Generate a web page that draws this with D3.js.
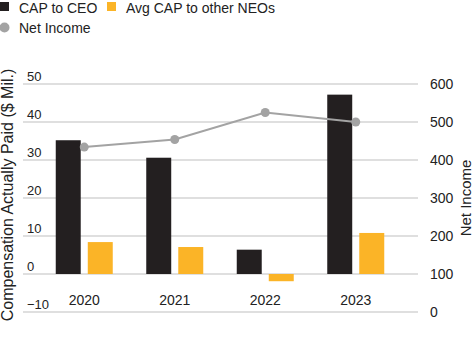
<!DOCTYPE html>
<html>
<head>
<meta charset="utf-8">
<script src="https://cdn.jsdelivr.net/npm/d3@7"></script>
<style>
  html, body { margin: 0; padding: 0; background: #fff; }
  svg { display: block; font-family: "Liberation Sans", Arial, sans-serif; }
  .tick text { fill: #222; }
</style>
</head>
<body>
<div id="chart"></div>
<script>
(() => {
  "use strict";

  const years = ["2020", "2021", "2022", "2023"];
  const capCeo = [35.2, 30.6, 6.4, 47.2];
  const capNeo = [8.4, 7.1, -1.9, 10.8];
  const netIncome = [434, 454, 525, 500];
  const leftTicks = [-10, 0, 10, 20, 30, 40, 50];
  const rightTicks = [0, 100, 200, 300, 400, 500, 600];

  const W = 475, H = 337;
  const BLACK = "#231f20", ORANGE = "#fbb427", GRAY = "#a3a3a3";

  const svg = d3.select("#chart").append("svg").attr("width", W).attr("height", H);

  const x0 = d3.scaleBand().domain(years).range([39, 401]);
  const keys = ["ceo", "neo"];
  const x1 = d3.scaleBand().domain(keys).range([16.75, 73.75]).paddingInner(0.22);
  const y = d3.scaleLinear().domain([-10, 50]).range([312, 84]);
  const yR = d3.scaleLinear().domain([0, 600]).range([312, 84]);
  const color = d3.scaleOrdinal().domain(keys).range([BLACK, ORANGE]);

  // gridlines
  svg.append("g").selectAll("line").data(leftTicks).join("line")
    .attr("x1", 23).attr("x2", 418)
    .attr("y1", d => y(d)).attr("y2", d => y(d))
    .attr("stroke", "#d4d4d4").attr("stroke-width", 1.6);

  // left labels sitting just above each line
  const gl = svg.append("g").attr("transform", "translate(23,0)")
    .call(d3.axisRight(y).tickValues(leftTicks).tickSize(0).tickFormat(d3.format("d")));
  gl.select(".domain").remove();
  gl.selectAll("text").attr("x", 4).attr("dy", "-0.3em")
    .attr("text-anchor", "start").style("font-size", "13px");

  // right axis
  const gr = svg.append("g").attr("transform", "translate(418,0)")
    .call(d3.axisRight(yR).tickValues(rightTicks).tickSize(0).tickPadding(12));
  gr.select(".domain").remove();
  gr.selectAll("text").style("font-size", "14px");

  // x axis labels
  const gx = svg.append("g").attr("transform", "translate(0,295)")
    .call(d3.axisBottom(x0).tickSize(0).tickPadding(0));
  gx.select(".domain").remove();
  gx.selectAll("text").style("font-size", "14px");

  // bars
  const rows = years.map((yr, i) => ({ year: yr, ceo: capCeo[i], neo: capNeo[i] }));
  svg.append("g").selectAll("g").data(rows).join("g")
    .attr("transform", d => `translate(${x0(d.year)},0)`)
    .selectAll("rect")
    .data(d => keys.map(k => ({ key: k, value: d[k] })))
    .join("rect")
    .attr("x", d => x1(d.key))
    .attr("width", x1.bandwidth())
    .attr("y", d => y(Math.max(0, d.value)))
    .attr("height", d => Math.abs(y(d.value) - y(0)))
    .attr("fill", d => color(d.key));

  // net income line
  const pts = years.map((yr, i) => ({ year: yr, v: netIncome[i] }));
  const cx = d => x0(d.year) + x0.bandwidth() / 2;
  svg.append("path").datum(pts)
    .attr("fill", "none").attr("stroke", GRAY).attr("stroke-width", 2)
    .attr("d", d3.line().x(cx).y(d => yR(d.v)));
  svg.append("g").selectAll("circle").data(pts).join("circle")
    .attr("cx", cx).attr("cy", d => yR(d.v)).attr("r", 4.5).attr("fill", GRAY);

  // axis titles
  svg.append("text")
    .attr("transform", "translate(13,195) rotate(-90)")
    .attr("text-anchor", "middle").style("font-size", "16px").attr("fill", "#222")
    .text("Compensation Actually Paid ($ Mil.)");
  svg.append("text")
    .attr("transform", "translate(471,198) rotate(-90)")
    .attr("text-anchor", "middle").style("font-size", "15px").attr("fill", "#222")
    .text("Net Income");

  // legend
  const lg = svg.append("g").style("font-size", "14px").attr("fill", "#222");
  lg.append("rect").attr("x", 0).attr("y", 2).attr("width", 9).attr("height", 9).attr("fill", BLACK);
  lg.append("text").attr("x", 19).attr("y", 13).text("CAP to CEO");
  lg.append("rect").attr("x", 107).attr("y", 2).attr("width", 9).attr("height", 9).attr("fill", ORANGE);
  lg.append("text").attr("x", 126).attr("y", 13).text("Avg CAP to other NEOs");
  lg.append("circle").attr("cx", 4.5).attr("cy", 27.5).attr("r", 5).attr("fill", GRAY);
  lg.append("text").attr("x", 19).attr("y", 33).text("Net Income");
})();
</script>
</body>
</html>
